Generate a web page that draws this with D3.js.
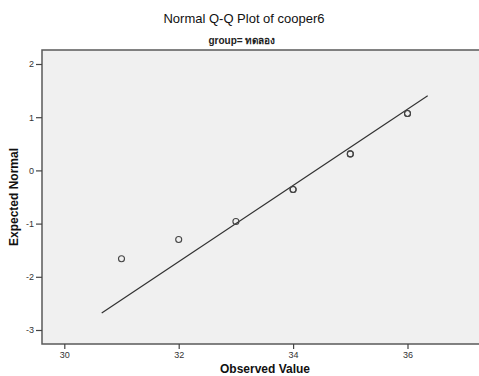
<!DOCTYPE html>
<html>
<head>
<meta charset="utf-8">
<script src="https://cdn.jsdelivr.net/npm/d3@7"></script>
<style>
  body { margin: 0; background: #fff; }
  svg { display: block; font-family: Arial, "Liberation Sans", sans-serif; }
</style>
</head>
<body>
<svg id="drawing_region"></svg>
<script>
// observed values and expected normal scores
const observed = [31, 32, 33, 34, 35, 36];
const expected = [-1.66, -1.30, -0.96, -0.36, 0.31, 1.07];
const counts = [1, 1, 1, 2, 2, 2];
// reference line end points
const lineX = [30.654, 36.353];
const lineY = [-2.68, 1.404];
const xTicks = [30, 32, 34, 36];
const yTicks = [-3, -2, -1, 0, 1, 2];

const W = 479, H = 376;
const plot = {left: 42, top: 50, right: 489, bottom: 344};

const svg = d3.select('#drawing_region').attr('width', W).attr('height', H);

const xscale = d3.scaleLinear().domain([30, 36]).range([64.3, 407.5]);
const yscale = d3.scaleLinear().domain([-3, 2]).range([330, 64]);

// plot background
svg.append('rect')
    .attr('x', plot.left).attr('y', plot.top)
    .attr('width', plot.right - plot.left).attr('height', plot.bottom - plot.top)
    .attr('fill', '#f0f0f0');

// frame (left, top, bottom)
svg.append('path')
    .attr('d', `M${plot.right},${plot.top}H${plot.left}V${plot.bottom}H${plot.right}`)
    .attr('fill', 'none').attr('stroke', '#5a5a5a').attr('stroke-width', 1.5);

// axes
const fmt = d => String(d);
const xaxis = d3.axisBottom(xscale).tickValues(xTicks).tickFormat(fmt).tickSize(5).tickPadding(3).tickSizeOuter(0);
const yaxis = d3.axisLeft(yscale).tickValues(yTicks).tickFormat(fmt).tickSize(6).tickPadding(2).tickSizeOuter(0);

const gx = svg.append('g').attr('transform', `translate(0,${plot.bottom})`).call(xaxis);
const gy = svg.append('g').attr('transform', `translate(${plot.left},0)`).call(yaxis);
[gx, gy].forEach(g => {
    g.select('.domain').remove();
    g.selectAll('line').attr('stroke', '#444').attr('stroke-width', 1.2);
    g.selectAll('text').attr('fill', '#333').attr('font-size', 9)
        .attr('font-family', 'Arial, "Liberation Sans", sans-serif');
});

// reference line
svg.append('line')
    .attr('x1', xscale(lineX[0])).attr('y1', yscale(lineY[0]))
    .attr('x2', xscale(lineX[1])).attr('y2', yscale(lineY[1]))
    .attr('stroke', '#333').attr('stroke-width', 1.2);

// points (repeated observations drawn on top of each other)
const pts = [];
observed.forEach((v, i) => { for (let k = 0; k < counts[i]; k++) pts.push({x: v, y: expected[i]}); });
svg.selectAll('circle.pt')
    .data(pts)
    .enter()
    .append('circle')
    .attr('class', 'pt')
    .attr('cx', d => xscale(d.x))
    .attr('cy', d => yscale(d.y))
    .attr('r', 3)
    .attr('fill', 'none')
    .attr('stroke', '#444')
    .attr('stroke-width', 1.1);

// titles
svg.append('text').attr('x', 244).attr('y', 23).attr('text-anchor', 'middle')
    .attr('font-size', 13).attr('fill', '#111')
    .text('Normal Q-Q Plot of cooper6');
svg.append('text').attr('x', 242).attr('y', 44).attr('text-anchor', 'middle')
    .attr('font-size', 10).attr('font-weight', 'bold').attr('fill', '#222')
    .text('group= ทดลอง');
svg.append('text').attr('x', 265).attr('y', 373).attr('text-anchor', 'middle')
    .attr('font-size', 12).attr('font-weight', 'bold').attr('fill', '#111')
    .text('Observed Value');
svg.append('text').attr('transform', 'translate(18,197) rotate(-90)').attr('text-anchor', 'middle')
    .attr('font-size', 12).attr('font-weight', 'bold').attr('fill', '#111')
    .text('Expected Normal');
</script>
</body>
</html>
